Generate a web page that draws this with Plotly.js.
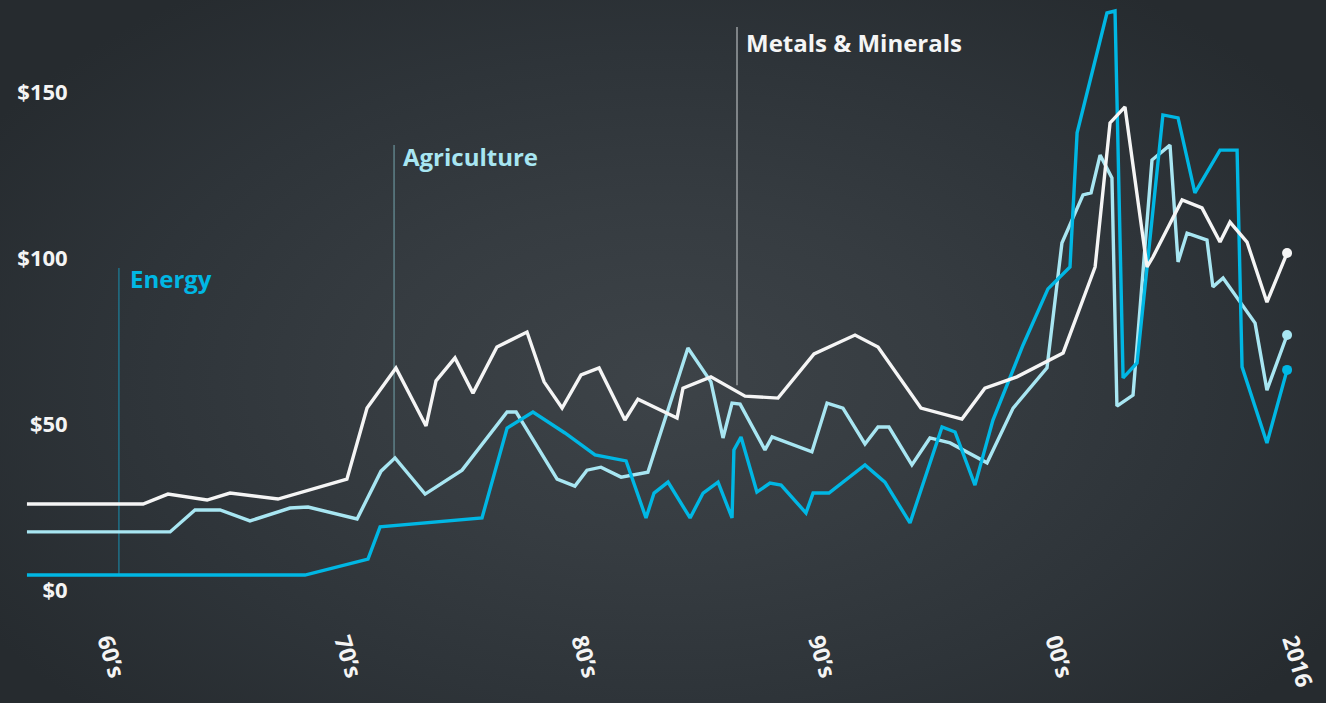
<!DOCTYPE html>
<html>
<head>
<meta charset="utf-8">
<script src="https://cdn.plot.ly/plotly-3.0.1.min.js"></script>
<style>
html,body{margin:0;padding:0;width:1326px;height:703px;overflow:hidden;}
body{background: radial-gradient(ellipse 60% 68% at 50% 54%, #3d4348 0%, #363c41 36%, #2e3439 68%, #262b2f 100%);}
#chart{width:1326px;height:703px;}
</style>
</head>
<body>
<div id="chart"></div>
<script>
// Position on the time axis (decade ticks evenly spaced) and price values ($)
const energyX = [1956.58,1968.31,1970.97,1971.48,1975.78,1976.84,1977.93,1979.28,1980.55,1981.86,1982.70,1983.04,1983.63,1984.56,1985.11,1985.74,1986.33,1986.41,1986.71,1987.38,1987.93,1988.40,1989.45,1989.75,1990.42,1991.94,1992.78,1993.84,1995.19,1995.74,1996.58,1997.34,1998.61,1999.66,2000.59,2000.89,2002.15,2002.49,2002.83,2003.42,2004.51,2005.15,2005.86,2006.92,2007.64,2007.85,2008.90,2009.75];
const energyY = [4.5,4.5,9.3,19.0,21.7,48.8,53.6,47.3,40.7,38.9,21.7,29.2,32.5,21.7,29.2,32.5,21.7,42.2,46.1,29.5,32.2,31.6,23.2,29.2,29.2,37.7,32.5,20.2,49.1,47.6,31.6,51.2,73.8,90.7,97.3,137.7,173.8,174.4,63.9,68.4,143.1,142.2,119.6,132.5,132.5,67.2,44.3,66.3];

const agricultureX = [1956.58,1962.62,1963.67,1964.73,1965.99,1967.68,1968.44,1970.51,1971.52,1972.11,1973.38,1974.94,1976.84,1977.22,1978.95,1979.70,1980.21,1980.80,1981.65,1982.78,1984.47,1985.44,1985.95,1986.33,1986.67,1987.72,1988.02,1989.70,1990.34,1991.01,1991.94,1992.49,1992.95,1993.92,1994.68,1995.53,1997.09,1998.19,1999.62,2000.25,2001.14,2001.48,2001.86,2002.36,2002.57,2003.25,2004.05,2004.81,2005.15,2005.53,2006.37,2006.62,2007.05,2008.40,2008.90,2009.75];
const agricultureY = [17.5,17.5,24.1,24.1,20.8,24.7,25.0,21.4,35.8,39.8,28.9,36.1,53.6,53.6,33.4,31.3,36.1,37.0,34.0,35.5,72.9,62.7,45.8,56.3,56.0,42.2,46.1,41.6,56.3,54.8,44.0,49.1,49.1,37.7,45.8,44.3,38.3,54.8,66.9,104.5,119.0,119.6,131.0,124.1,55.4,58.7,129.5,134.0,98.8,107.5,105.4,91.3,94.0,80.4,60.2,76.8];

const metalsX = [1956.58,1961.48,1962.53,1964.18,1965.15,1967.17,1970.08,1970.93,1972.15,1973.42,1973.84,1974.64,1975.40,1976.41,1977.68,1978.40,1979.16,1979.96,1980.72,1981.81,1982.36,1984.01,1984.26,1985.44,1986.88,1988.27,1989.79,1991.52,1992.49,1994.30,1996.03,1997.00,1998.35,2000.30,2001.65,2002.28,2002.91,2003.84,2004.09,2005.32,2006.16,2006.92,2007.34,2008.06,2008.90,2009.75];
const metalsY = [25.9,25.9,28.9,27.1,29.2,27.4,33.4,54.8,66.9,49.4,63.0,69.9,59.3,73.2,77.7,62.7,54.8,64.8,66.9,51.2,57.5,51.8,60.8,64.2,58.4,57.8,71.1,76.8,73.2,54.8,51.5,60.8,64.2,71.4,97.3,140.7,145.5,97.3,100.3,117.5,115.1,104.8,110.8,104.8,86.7,101.5];

const tickPositions = [1960,1970,1980,1990,2000,2010];
const tickLabels = ["60’s","70’s","80’s","90’s","00’s","2016"];
const yTickValues = [0,50,100,150];
const yTickLabels = ["$0","$50","$100","$150"];

const seriesNames = ["Energy","Agriculture","Metals & Minerals"];
const colors = {energy:'#00b7e4', agriculture:'#a8e6f2', metals:'#f5f5f5'};

const last = a => [a[a.length - 1]];

function lineTrace(x, y, name, color){
  return {x:x, y:y, name:name, mode:'lines', line:{color:color, width:3.4}};
}
function endDot(x, y, name, color){
  return {x:last(x), y:last(y), name:name, mode:'markers',
          marker:{color:color, size:10, opacity:1, line:{width:0}}};
}

const traces = [
  lineTrace(agricultureX, agricultureY, seriesNames[1], colors.agriculture),
  lineTrace(energyX, energyY, seriesNames[0], colors.energy),
  lineTrace(metalsX, metalsY, seriesNames[2], colors.metals),
  endDot(agricultureX, agricultureY, seriesNames[1], colors.agriculture),
  endDot(energyX, energyY, seriesNames[0], colors.energy),
  endDot(metalsX, metalsY, seriesNames[2], colors.metals)
];

const fam = '"Open Sans", "DejaVu Sans", sans-serif';

const layout = {
  width:1326, height:703,
  paper_bgcolor:'rgba(0,0,0,0)', plot_bgcolor:'rgba(0,0,0,0)',
  margin:{l:0, r:0, t:0, b:93},
  showlegend:false,
  hovermode:false,
  xaxis:{
    range:[1955.443, 2011.392],
    tickvals: tickPositions, ticktext: tickLabels,
    tickangle: 73,
    showgrid:false, zeroline:false, showline:false,
    ticks:'outside', ticklen:8, tickcolor:'rgba(0,0,0,0)',
    tickfont:{family:fam, size:23, weight:700, color:'#f4f4f4'}
  },
  yaxis:{
    range:[-6.02, 177.71],
    tickvals: yTickValues, ticktext: yTickLabels,
    anchor:'free', position:0.051,
    showgrid:false, zeroline:false, showline:false, ticks:'',
    tickfont:{family:fam, size:22, weight:700, color:'#f4f4f4'}
  },
  shapes:[
    {type:'line', xref:'x', yref:'y', x0:1960.46, x1:1960.46, y0:4.5, y1:97.0, layer:'below', line:{color:'#1f7189', width:1.5}},
    {type:'line', xref:'x', yref:'y', x0:1972.07, x1:1972.07, y0:39.8, y1:134.0, layer:'below', line:{color:'#5f8189', width:1.5}},
    {type:'line', xref:'x', yref:'y', x0:1986.54, x1:1986.54, y0:61.7, y1:169.6, layer:'below', line:{color:'#9a9fa2', width:1.5}}
  ],
  annotations:[
    {xref:'x', yref:'y', x:1960.85, y:93.7, text:seriesNames[0], showarrow:false, xanchor:'left', yanchor:'middle',
     font:{family:fam, size:24, weight:700, color:colors.energy}},
    {xref:'x', yref:'y', x:1972.38, y:130.7, text:seriesNames[1], showarrow:false, xanchor:'left', yanchor:'middle',
     font:{family:fam, size:24, weight:700, color:colors.agriculture}},
    {xref:'x', yref:'y', x:1986.85, y:164.8, text:seriesNames[2], showarrow:false, xanchor:'left', yanchor:'middle',
     font:{family:fam, size:24, weight:700, color:colors.metals}}
  ]
};

Plotly.newPlot('chart', traces, layout, {displayModeBar:false, staticPlot:true});
</script>
</body>
</html>
